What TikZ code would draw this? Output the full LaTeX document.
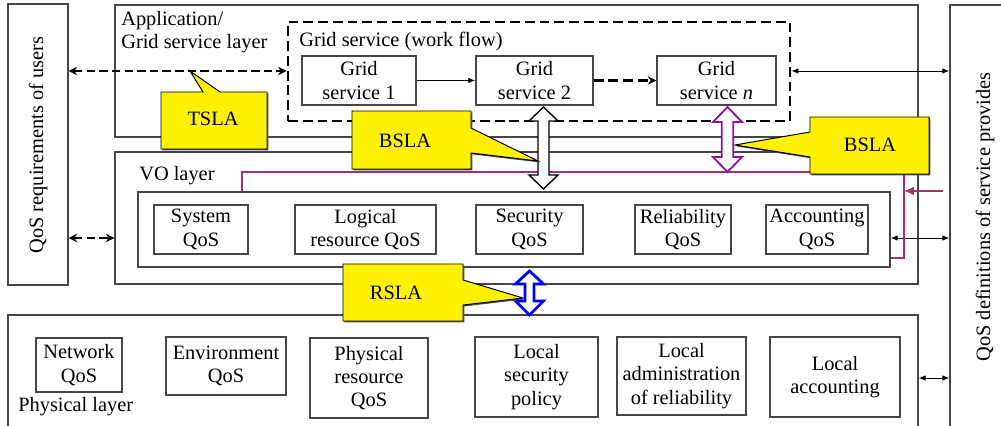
\documentclass[tikz,border=0pt]{standalone}
\usepackage{fontspec}
\setmainfont{Liberation Serif}
\usepackage{xcolor}
\usepackage{tikz}
\usetikzlibrary{fit,arrows.meta,shadows}

\definecolor{edge}{RGB}{70,70,70}
\definecolor{plum}{RGB}{160,50,110}
\definecolor{vio}{RGB}{140,20,150}

\begin{document}
\begin{tikzpicture}[x=0.025cm,y=-0.025cm,
    txt/.style={font=\fontsize{14.5}{16.5}\selectfont,inner sep=0pt},
    box/.style={txt,draw=edge,line width=1pt,align=center},
    flow/.style={draw=black,line width=2pt,dash pattern=on 7pt off 3.5pt,inner sep=0pt},
    dasharrow/.style={line width=1.8pt,dash pattern=on 6pt off 3pt,{Stealth[length=6pt,width=6pt]}-{Stealth[length=6pt,width=6pt]}},
    dashflow/.style={line width=1.8pt,dash pattern=on 7pt off 3.5pt,-{Stealth[length=6pt,width=6pt]}},
    thinarrow/.style={line width=0.7pt,{Latex[length=5pt,width=4pt]}-{Latex[length=5pt,width=4pt]}},
    slaline/.style={draw=plum,line width=0.8pt},
    sla/.style={fill=yellow,draw=black,line width=0.7pt,drop shadow={shadow xshift=1pt,shadow yshift=-1pt,fill=black!70,opacity=1}},
    bigarrow/.style={fill=white,line join=miter}]
    \useasboundingbox (0,0) rectangle (1001,426);

    % outer boxes and layers
    \node[box,fit={(8,4) (68,285)}] (users) {};
    \node[box,fit={(950,5) (1012,440)}] (prov) {};
    \node[box,fit={(115,5) (918,137)}] (app) {};
    \node[box,fit={(115,152) (918,284)}] (vo) {};
    \node[box,fit={(8,315) (918,440)}] (phys) {};
    \node[txt,rotate=90] (userstxt) at (38,145) {QoS requirements of users};
    \node[txt,rotate=90] (provtxt) at (985,217) {QoS definitions of service provides};
    \node[txt,align=left,anchor=north west] (apptxt) at (121,11) {Application/\\Grid service layer};
    \node[txt,anchor=west] (votxt) at (139,176) {VO layer};
    \node[txt,anchor=west] (phystxt) at (18,407) {Physical layer};

    % grid services
    \node[flow,fit={(288,22) (790,121)}] (gsflow) {};
    \node[txt,anchor=west] (gsflowtxt) at (299,41) {Grid service (work flow)};
    \node[box,minimum width=2.85cm,minimum height=1.225cm] (gs1) at (359,80.5) {Grid\\service 1};
    \node[box,minimum width=2.925cm,minimum height=1.225cm] (gs2) at (534.5,80.5) {Grid\\service 2};
    \node[box,minimum width=2.975cm,minimum height=1.225cm] (gsn) at (716.5,80.5) {Grid\\service \textit{n}};

    % VO layer
    \node[box,fit={(138,192) (890,267)}] (qos) {};
    \node[box,minimum width=2.35cm,minimum height=1.225cm] (sysq) at (201,229.5) {System\\QoS};
    \node[box,minimum width=3.525cm,minimum height=1.225cm] (logq) at (365.5,229.5) {Logical\\resource QoS};
    \node[box,minimum width=2.675cm,minimum height=1.225cm] (secq) at (529.5,229.5) {Security\\QoS};
    \node[box,minimum width=2.4cm,minimum height=1.225cm] (relq) at (683,229.5) {Reliability\\QoS};
    \node[box,minimum width=2.55cm,minimum height=1.225cm] (accq) at (817,229.5) {Accounting\\QoS};

    % physical layer
    \node[box,minimum width=2.15cm,minimum height=1.35cm] (netq) at (79,365) {Network\\QoS};
    \node[box,minimum width=3cm,minimum height=1.45cm] (envq) at (226,366) {Environment\\QoS};
    \node[box,minimum width=2.95cm,minimum height=2cm] (resq) at (369,378) {Physical\\resource\\QoS};
    \node[box,minimum width=3.075cm,minimum height=2cm] (locsec) at (536.5,377) {Local\\security\\policy};
    \node[box,minimum width=3.225cm,minimum height=1.95cm] (locrel) at (681.5,376) {Local\\administration\\of reliability};
    \node[box,minimum width=3.25cm,minimum height=2cm] (locacc) at (835,377) {Local\\accounting};

    % connectors
    \coordinate (top) at (0,71);
    \coordinate (mid) at (0,238);
    \coordinate (low) at (0,378);
    \draw[dasharrow] (users.east |- top) -- (gsflow.west |- top);
    \draw[thinarrow] (gsflow.east |- top) -- (prov.west |- top);
    \draw[line width=0.7pt,-{Latex[length=5pt,width=4pt]}] (gs1) -- (gs2);
    \draw[dashflow] (gs2) -- (gsn);
    \draw[dasharrow] (users.east |- mid) -- (vo.west |- mid);
    \draw[thinarrow] (qos.east |- mid) -- (prov.west |- mid);
    \draw[thinarrow] (phys.east |- low) -- (prov.west |- low);

    % purple feedback line
    \coordinate (p1) at (242,172);
    \coordinate (p2) at (904,258);
    \coordinate (p3) at (943,191);
    \draw[slaline] (qos.north -| p1) -- (p1) -| (p2) -- (qos.east |- p2);
    \draw[slaline,-{Latex[length=7pt,width=6pt]}] (p3) -- (p2 |- p3);

    % double block arrows
    \draw[bigarrow,draw=black,line width=1pt] (543.5,107) -- (558,121) -- (549,121) -- (549,175) -- (558,175) -- (543.5,189) -- (529,175) -- (538,175) -- (538,121) -- (529,121) -- cycle;
    \draw[bigarrow,draw=vio,line width=1.3pt] (727.5,107) -- (742,122) -- (733.3,122) -- (733.3,157) -- (742,157) -- (727.5,172) -- (713,157) -- (721.7,157) -- (721.7,122) -- (713,122) -- cycle;
    \draw[bigarrow,draw=blue,line width=2pt] (529.5,271) -- (543.5,284) -- (534,284) -- (534,301) -- (543.5,301) -- (529.5,315) -- (515.5,301) -- (525,301) -- (525,284) -- (515.5,284) -- cycle;

    % SLA callouts
    \filldraw[sla] (161,92) -- (203,92) -- (190,71) -- (220,92) -- (267,92) -- (267,149) -- (161,149) -- cycle;
    \filldraw[sla] (352,111) -- (471,111) -- (471,128) -- (538,161) -- (471,153) -- (471,169) -- (352,169) -- cycle;
    \filldraw[sla] (810,117) -- (929,117) -- (929,174) -- (810,174) -- (810,157) -- (735,145) -- (810,132) -- cycle;
    \filldraw[sla] (343,264) -- (463,264) -- (463,280) -- (523,298) -- (463,305) -- (463,321) -- (343,321) -- cycle;
    \node[txt] (tsla) at (213,119) {TSLA};
    \node[txt] (bslab) at (405,141) {BSLA};
    \node[txt] (bslac) at (870,145) {BSLA};
    \node[txt] (rsla) at (396,293) {RSLA};
\end{tikzpicture}
\end{document}
